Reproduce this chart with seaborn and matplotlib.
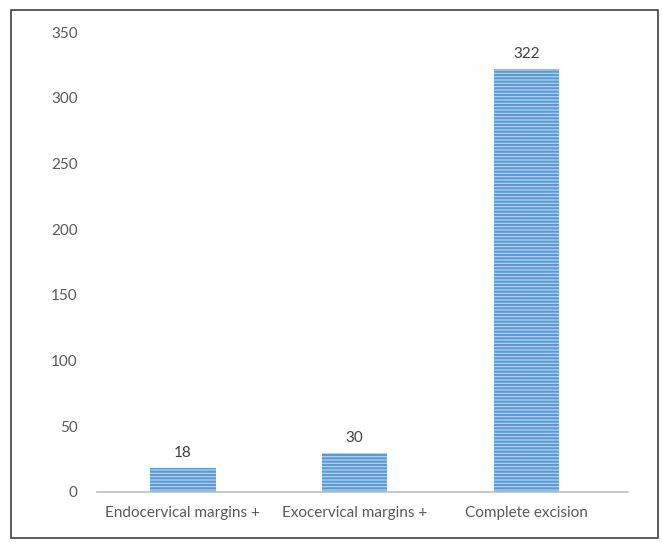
import matplotlib.pyplot as plt
import matplotlib.patches as mpatches
import pandas as pd
import seaborn as sns

categories = ["Endocervical margins +", "Exocervical margins +", "Complete excision"]
counts = [18, 30, 322]
yticks = [0, 50, 100, 150, 200, 250, 300, 350]

sns.set_style("white")
plt.rcParams["font.family"] = ["Lato", "DejaVu Sans"]
plt.rcParams["hatch.color"] = "#5b9bd5"
plt.rcParams["hatch.linewidth"] = 1.6

df = pd.DataFrame({"cat": categories, "n": counts})

fig = plt.figure(figsize=(6.62, 5.44), dpi=100)
ax = fig.add_axes([0.1465, 0.0956, 0.802, 0.845])
sns.barplot(data=df, x="cat", y="n", ax=ax, color="#bdd7f1", width=0.38,
            saturation=1)
for p in ax.patches:
    p.set_hatch("-----")
    p.set_edgecolor("#5b9bd5")
    p.set_linewidth(0)

for i, v in enumerate(counts):
    ax.text(i, v + 6, str(v), ha="center", va="bottom", fontsize=11, color="#404040")

ax.set_ylim(0, 350)
ax.set_yticks(yticks)
ax.set_xlim(-0.5, 2.59)
ax.set_xlabel("")
ax.set_ylabel("")
ax.tick_params(axis="both", length=0, labelsize=11, labelcolor="#595959")
ax.tick_params(axis="y", pad=14)
ax.tick_params(axis="x", pad=10)
for s in ["top", "right", "left"]:
    ax.spines[s].set_visible(False)
ax.spines["bottom"].set_color("#bfbfbf")
ax.spines["bottom"].set_linewidth(1.2)

border = mpatches.Rectangle((11 / 662, 1 - 538 / 544), 647 / 662, 528 / 544,
                            transform=fig.transFigure, fill=False,
                            edgecolor="#404040", linewidth=1.2)
fig.patches.append(border)

fig.savefig("out.png", dpi=100, facecolor="white")
